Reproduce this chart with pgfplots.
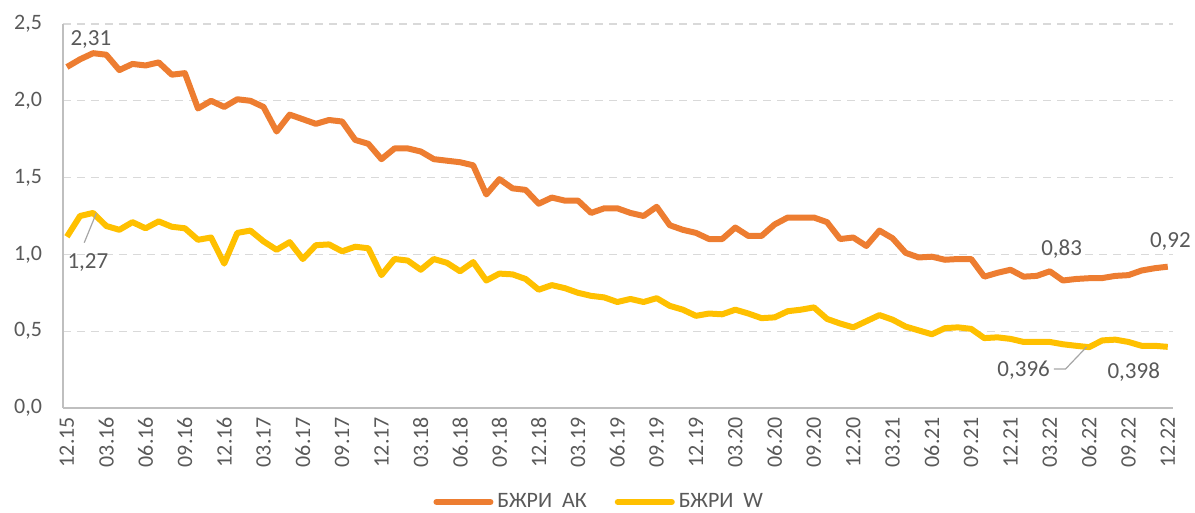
\documentclass[border=0pt]{standalone}
\usepackage{pgfplots}
\usepackage{pgfplotstable}
\usepackage{fontspec}
\setmainfont{Carlito}
\pgfplotsset{compat=1.18}

\definecolor{ak}{HTML}{ED7D31}
\definecolor{w}{HTML}{FFC000}
\definecolor{txt}{HTML}{595959}
\definecolor{gridc}{HTML}{D9D9D9}
\definecolor{axc}{HTML}{BFBFBF}
\definecolor{lead}{HTML}{A6A6A6}

% month index (0 = 12.15), BZhRI AK, BZhRI W
\pgfplotstableread{
i ak w
0 2.22 1.115
1 2.27 1.25
2 2.31 1.27
3 2.30 1.185
4 2.20 1.16
5 2.24 1.21
6 2.23 1.17
7 2.25 1.215
8 2.17 1.18
9 2.18 1.17
10 1.95 1.095
11 2.00 1.11
12 1.96 0.94
13 2.01 1.14
14 2.00 1.155
15 1.96 1.085
16 1.80 1.03
17 1.91 1.08
18 1.88 0.97
19 1.85 1.06
20 1.875 1.065
21 1.865 1.02
22 1.745 1.05
23 1.72 1.04
24 1.62 0.865
25 1.69 0.97
26 1.69 0.96
27 1.67 0.90
28 1.62 0.97
29 1.61 0.945
30 1.60 0.89
31 1.58 0.95
32 1.39 0.83
33 1.49 0.875
34 1.43 0.87
35 1.42 0.84
36 1.33 0.77
37 1.37 0.80
38 1.35 0.78
39 1.35 0.75
40 1.27 0.73
41 1.30 0.72
42 1.30 0.69
43 1.27 0.71
44 1.25 0.69
45 1.31 0.715
46 1.19 0.665
47 1.16 0.64
48 1.14 0.60
49 1.10 0.615
50 1.10 0.61
51 1.175 0.64
52 1.12 0.615
53 1.12 0.585
54 1.195 0.59
55 1.24 0.63
56 1.24 0.64
57 1.24 0.655
58 1.21 0.58
59 1.10 0.55
60 1.11 0.525
61 1.055 0.565
62 1.155 0.605
63 1.105 0.575
64 1.01 0.53
65 0.98 0.505
66 0.985 0.48
67 0.965 0.52
68 0.97 0.525
69 0.97 0.515
70 0.855 0.455
71 0.88 0.46
72 0.90 0.45
73 0.855 0.43
74 0.86 0.43
75 0.89 0.43
76 0.83 0.415
77 0.84 0.405
78 0.845 0.396
79 0.846 0.44
80 0.86 0.445
81 0.865 0.43
82 0.895 0.405
83 0.91 0.405
84 0.92 0.398
}\data

\begin{document}
\begin{tikzpicture}
\begin{axis}[
    at={(0,0)}, anchor=south west,
    scale only axis,
    width=555pt, height=192pt,
    xmin=-0.3, xmax=84.4,
    ymin=0, ymax=2.5,
    ytick={0,0.5,...,2.5},
    xtick={0,3,...,84},
    xticklabels={12.15,03.16,06.16,09.16,12.16,03.17,06.17,09.17,12.17,03.18,06.18,09.18,12.18,03.19,06.19,09.19,12.19,03.20,06.20,09.20,12.20,03.21,06.21,09.21,12.21,03.22,06.22,09.22,12.22},
    x tick label style={rotate=90, anchor=east, font=\fontsize{11}{13}\selectfont, text=txt, xshift=-1pt},
    y tick label style={font=\fontsize{11}{13}\selectfont, text=txt, xshift=-7pt},
    /pgf/number format/.cd, fixed, fixed zerofill, precision=1, use comma, assume math mode=true,
    /pgfplots/.cd,
    major tick length=0pt,
    axis x line*=bottom, axis y line*=left,
    axis line style={axc, line width=0.8pt},
    ymajorgrids=true,
    grid style={gridc, dash pattern=on 4pt off 3pt, line width=0.6pt},
    clip=false,
    legend columns=2,
    legend style={at={(0.484,0)}, anchor=center, yshift=-47pt, draw=none,
        font=\fontsize{11}{13}\selectfont, text=txt,
        /tikz/every even column/.append style={column sep=12pt}},
    legend image code/.code={\draw[#1, line cap=round] (0pt,0pt) -- (27pt,0pt);},
]
\addplot[ak, line width=3pt, line join=round] table[x=i, y=ak] {\data};
\addlegendentry{БЖРИ\ \ АК}
\addplot[w, line width=3pt, line join=round] table[x=i, y=w] {\data};
\addlegendentry{БЖРИ\ \ W}

\draw[lead, line width=0.6pt] (axis cs:2.25,1.27) -- (axis cs:1.32,1.076);
\draw[lead, line width=0.6pt] (axis cs:77.8,0.397) -- (axis cs:76.2,0.254) -- (axis cs:75.3,0.254);

\begin{scope}[every node/.style={text=txt, font=\fontsize{11.5}{13}\selectfont}]
\node at (axis cs:1.83,2.40) {2,31};
\node at (axis cs:1.6,0.95) {1,27};
\node at (axis cs:75.9,1.035) {0,83};
\node at (axis cs:84.2,1.087) {0,92};
\node at (axis cs:73.0,0.247) {0,396};
\node at (axis cs:81.4,0.234) {0,398};
\end{scope}
\end{axis}
\pgfresetboundingbox
\path[use as bounding box] (-31.5pt,-52.5pt) rectangle (566pt,204pt);
\end{tikzpicture}
\end{document}
